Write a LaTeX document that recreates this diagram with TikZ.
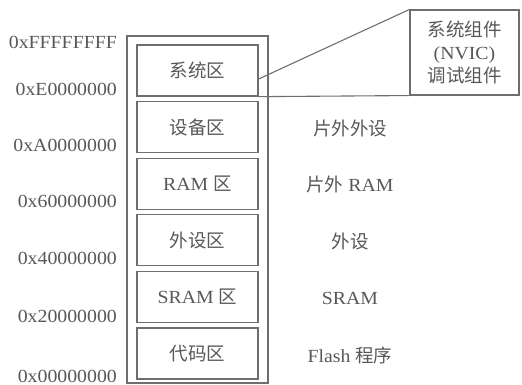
\documentclass[tikz,border=0pt]{standalone}
\usepackage{fontspec}
\setmainfont{Liberation Serif}[FakeStretch=1.07]
\newfontfamily\zhfont{Noto Sans CJK SC}
\newcommand{\zh}[1]{{\zhfont #1}}
\definecolor{txtgray}{HTML}{585858}
\definecolor{linegray}{HTML}{6E6E6E}
\begin{document}
\begin{tikzpicture}[x=1pt,y=-1pt,
  every node/.style={text=txtgray, font=\fontsize{18.5}{23}\selectfont, inner sep=0pt},
  region/.style={draw=linegray, line width=1.3pt, minimum width=121pt, minimum height=51pt},
  outerbox/.style={draw=linegray, line width=1.1pt, minimum width=141pt, minimum height=347pt},
  addr/.style={anchor=east},
  desc/.style={anchor=center},
  link/.style={draw=linegray, line width=1.1pt}]
\useasboundingbox (0,0) rectangle (522,385);
\node[outerbox] (outer) at (197.5,209.5) {};
\node[region] (sys) at (197.5,70.5) {\zh{系统区}};
\node[region] (dev) at (197.5,127.1) {\zh{设备区}};
\node[region] (ram) at (197.5,183.7) {RAM \zh{区}};
\node[region] (per) at (197.5,240.3) {\zh{外设区}};
\node[region] (sram) at (197.5,296.9) {SRAM \zh{区}};
\node[region] (code) at (197.5,353.5) {\zh{代码区}};
\node[draw=linegray, line width=1.1pt, minimum width=109pt, minimum height=85pt, align=center] (comp) at (464.5,52.5) {\zh{系统组件}\\(NVIC)\\\zh{调试组件}};
\node[addr] (a7) at (117,42) {0xFFFFFFFF};
\node[addr] (a6) at (117,89) {0xE0000000};
\node[addr] (a5) at (117,145) {0xA0000000};
\node[addr] (a4) at (117,201) {0x60000000};
\node[addr] (a3) at (117,258) {0x40000000};
\node[addr] (a2) at (117,316) {0x20000000};
\node[addr] (a1) at (117,376) {0x00000000};
\node[desc] (d5) at (350,128) {\zh{片外外设}};
\node[desc] (d4) at (350,184) {\zh{片外} RAM};
\node[desc] (d3) at (350,241) {\zh{外设}};
\node[desc] (d2) at (350,298) {SRAM};
\node[desc] (d1) at (350,355) {Flash \zh{程序}};
\draw[link] ([yshift=-8.5pt]sys.east) -- (comp.north west);
\draw[link] (sys.south east) -- (comp.south west);
\end{tikzpicture}
\end{document}
